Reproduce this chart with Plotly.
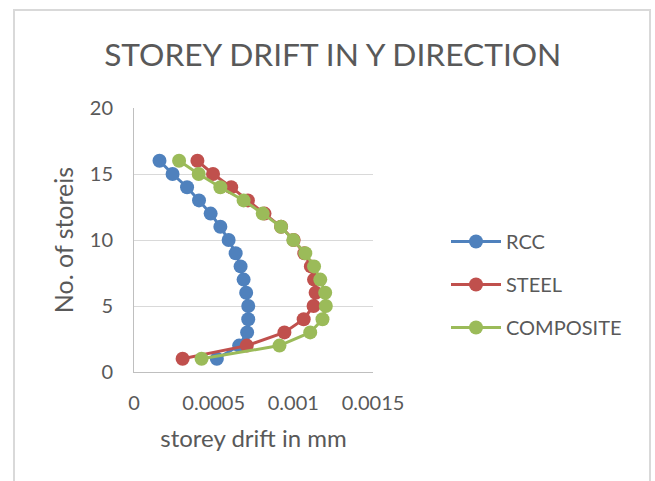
import plotly.graph_objects as go

# Storey numbers (1 = ground level storey)
storeys = list(range(1, 17))

# Storey drift (mm) for each structural system, storey 1..16
rcc_drift = [0.00052, 0.00066, 0.00071, 0.000717, 0.000717, 0.000704, 0.000688, 0.000669,
             0.000638, 0.000594, 0.000542, 0.000481, 0.000408, 0.000333, 0.000242, 0.00016]
steel_drift = [0.000305, 0.000708, 0.000944, 0.001065, 0.001127, 0.00114, 0.00113, 0.00111,
               0.001069, 0.001002, 0.000923, 0.000819, 0.000715, 0.00061, 0.000496, 0.000398]
composite_drift = [0.000424, 0.000913, 0.001106, 0.001183, 0.001204, 0.0012, 0.001169, 0.00113,
                   0.001075, 0.001, 0.000923, 0.000808, 0.000688, 0.000542, 0.000406, 0.000283]

series_names = ["RCC", "STEEL", "COMPOSITE"]
series_colors = ["#4F81BD", "#C0504D", "#9BBB59"]

x_tickvals = [0, 0.0005, 0.001, 0.0015]
x_ticktext = ["0", "0.0005", "0.001", "0.0015"]
y_tickvals = [0, 5, 10, 15, 20]

W, H = 655, 481
L, R, T, B = 134, 373, 108, 372  # plot area edges in pixels
TEXT = "#595959"
FONT = "Lato"


def px_x(p):
    return (p - L) / (R - L)


def px_y(p):
    return (B - p) / (B - T)


fig = go.Figure()
for name, color, drift in zip(series_names, series_colors,
                              [rcc_drift, steel_drift, composite_drift]):
    fig.add_trace(go.Scatter(
        x=drift, y=storeys, name=name, mode="lines+markers",
        line=dict(color=color, width=3),
        marker=dict(color=color, size=14),
        legendgroup=name,
    ))

fig.update_layout(
    width=W, height=H,
    margin=dict(l=L, r=W - R, t=T, b=H - B),
    paper_bgcolor="white", plot_bgcolor="white",
    font=dict(family=FONT, color=TEXT, size=20),
    title=dict(text="STOREY DRIFT IN Y DIRECTION", x=0.508, xanchor="center",
               y=1 - 55 / H, yanchor="middle",
               font=dict(size=31.7, color=TEXT, family=FONT)),
    xaxis=dict(range=[0, 0.0015], tickvals=x_tickvals, ticktext=x_ticktext,
               showgrid=False, showline=True, linecolor="#BFBFBF", linewidth=1,
               zeroline=False, ticks="", ticklabelstandoff=13,
               tickfont=dict(size=20, color=TEXT),
               title=dict(text="storey drift in mm", standoff=17,
                          font=dict(size=24, color=TEXT))),
    yaxis=dict(range=[0, 20], tickvals=y_tickvals,
               showgrid=True, gridcolor="#D9D9D9", gridwidth=1,
               showline=True, linecolor="#BFBFBF", linewidth=1,
               zeroline=False, ticks="", ticklabelstandoff=16,
               tickfont=dict(size=20, color=TEXT),
               title=dict(text="No. of storeis", standoff=9,
                          font=dict(size=25, color=TEXT))),
    legend=dict(x=px_x(446), y=px_y(222), xanchor="left", yanchor="top",
                font=dict(size=20, color=TEXT), tracegroupgap=14,
                itemwidth=50, itemsizing="trace", bgcolor="rgba(0,0,0,0)"),
    shapes=[dict(type="rect", xref="paper", yref="paper",
                 x0=px_x(14), x1=px_x(650), y0=px_y(495), y1=px_y(10),
                 line=dict(color="#D9D9D9", width=2), layer="below")],
)

fig.write_html("out.html")
